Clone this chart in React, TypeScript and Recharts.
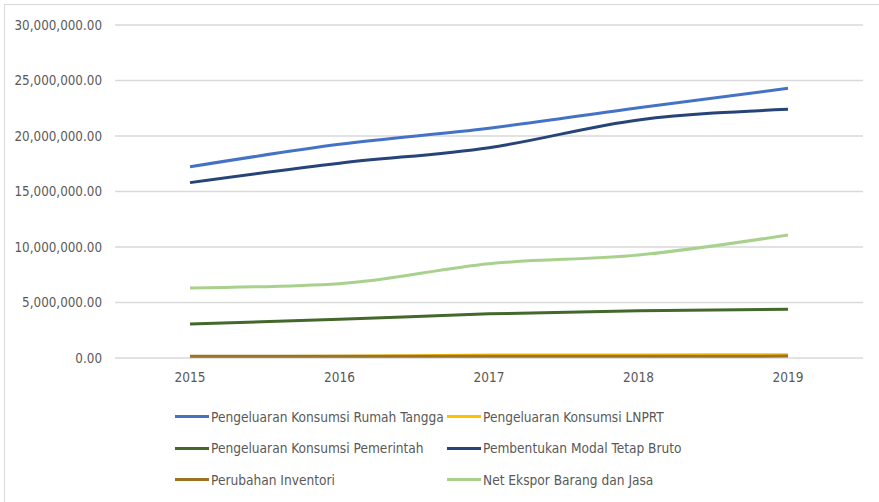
import React from 'react';
import { LineChart, Line, XAxis, YAxis, CartesianGrid, Legend } from 'recharts';

const years = ['2015', '2016', '2017', '2018', '2019'];
const rumahTangga = [17230000, 19250000, 20700000, 22550000, 24300000];
const lnprt = [140000, 150000, 270000, 280000, 290000];
const pemerintah = [3060000, 3480000, 3980000, 4260000, 4390000];
const modalTetap = [15800000, 17550000, 18950000, 21450000, 22400000];
const inventori = [150000, 150000, 160000, 160000, 170000];
const netEkspor = [6300000, 6700000, 8500000, 9280000, 11080000];
const yTicks = [0, 5000000, 10000000, 15000000, 20000000, 25000000, 30000000];

const seriesDefs = [
  { key: 'rt', name: 'Pengeluaran Konsumsi Rumah Tangga', color: '#4472C4', values: rumahTangga },
  { key: 'lnprt', name: 'Pengeluaran Konsumsi LNPRT', color: '#FFC000', values: lnprt },
  { key: 'pem', name: 'Pengeluaran Konsumsi Pemerintah', color: '#43682B', values: pemerintah },
  { key: 'modal', name: 'Pembentukan Modal Tetap Bruto', color: '#264478', values: modalTetap },
  { key: 'inv', name: 'Perubahan Inventori', color: '#9A7424', values: inventori },
  { key: 'nx', name: 'Net Ekspor Barang dan Jasa', color: '#A9D18E', values: netEkspor },
];

const data = years.map((y, i) => {
  const row: Record<string, any> = { year: y };
  seriesDefs.forEach((s) => {
    row[s.key] = s.values[i];
  });
  return row;
});

const FONT = "'DejaVu Sans Condensed', 'Liberation Sans Narrow', 'Open Sans', sans-serif";

const fmt = (v: number) =>
  v.toLocaleString('en-US', { minimumFractionDigits: 2, maximumFractionDigits: 2 });

const renderLegend = () => (
  <div
    style={{
      display: 'grid',
      gridTemplateColumns: '272px 330px',
      gridAutoRows: '31.5px',
      fontFamily: FONT,
      fontSize: 13.6,
      color: '#595959',
    }}
  >
    {seriesDefs.map((s) => (
      <div key={s.key} style={{ display: 'flex', alignItems: 'center', whiteSpace: 'nowrap' }}>
        <span
          style={{
            display: 'inline-block',
            flexShrink: 0,
            width: 34,
            height: 3,
            background: s.color,
            marginRight: 2,
          }}
        />
        <span>{s.name}</span>
      </div>
    ))}
  </div>
);

export default function App() {
  return (
    <div
      style={{
        position: 'absolute',
        left: 0,
        top: 0,
        width: 879,
        height: 502,
        background: '#fff',
        overflow: 'hidden',
      }}
    >
      <div
        style={{
          position: 'absolute',
          left: 4,
          top: 4,
          width: 900,
          height: 520,
          border: '1px solid #D9D9D9',
          boxSizing: 'border-box',
        }}
      />
      <LineChart
        width={879}
        height={502}
        data={data}
        margin={{ top: 25, right: 16, left: 0, bottom: 114 }}
        style={{ fontFamily: FONT }}
      >
        <CartesianGrid vertical={false} stroke="#D9D9D9" strokeWidth={1.3} />
        <XAxis
          dataKey="year"
          axisLine={false}
          tickLine={false}
          height={30}
          tickMargin={8}
          padding={{ left: 75, right: 75 }}
          tick={{ fill: '#595959', fontSize: 13.5, fontFamily: FONT }}
        />
        <YAxis
          width={115}
          domain={[0, 30000000]}
          ticks={yTicks}
          tickFormatter={fmt}
          axisLine={false}
          tickLine={false}
          tickMargin={7}
          interval={0}
          tick={{ fill: '#595959', fontSize: 13.3, fontFamily: FONT }}
        />
        <Legend
          layout="horizontal"
          verticalAlign="middle"
          align="center"
          content={renderLegend}
          wrapperStyle={{ top: 401, left: 175, width: 640, height: 100 }}
        />
        {seriesDefs.map((s) => (
          <Line
            key={s.key}
            type="monotone"
            dataKey={s.key}
            name={s.name}
            stroke={s.color}
            strokeWidth={3}
            dot={false}
            activeDot={false}
            isAnimationActive={false}
          />
        ))}
      </LineChart>
    </div>
  );
}
